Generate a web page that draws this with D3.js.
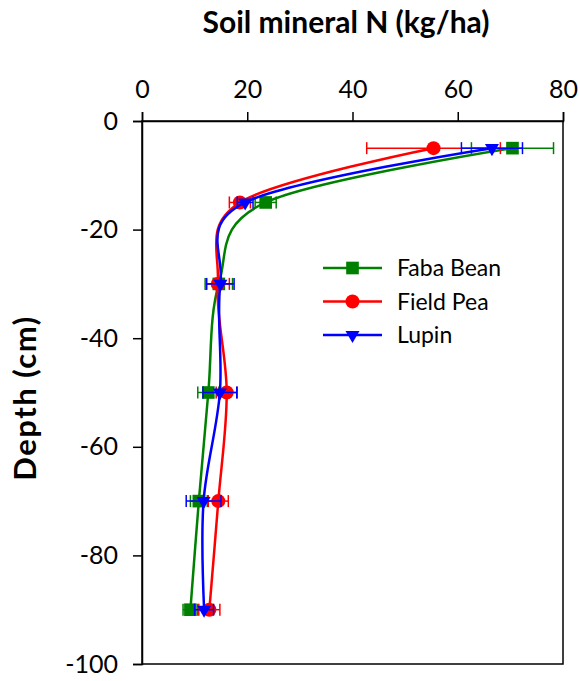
<!DOCTYPE html>
<html>
<head>
<meta charset="utf-8">
<script src="https://cdn.jsdelivr.net/npm/d3@7"></script>
<style>
  body { margin: 0; background: #fff; }
  svg { display: block; font-family: Lato, "Open Sans", sans-serif; }
</style>
</head>
<body>
<svg id="chart" width="580" height="681"></svg>
<script>
// depth of each sampling layer (cm, negative = below surface)
var depths = [-5, -15, -30, -50, -70, -90];

var fabaBean = [70.4, 23.5, 14.6, 12.6, 10.8, 9.2];
var fabaBeanErr = [7.8, 2.0, 2.6, 2.0, 1.6, 1.4];
var fieldPea = [55.4, 18.6, 14.4, 16.1, 14.5, 12.8];
var fieldPeaErr = [12.7, 2.0, 2.2, 2.0, 1.9, 2.0];
var lupin = [66.5, 19.6, 14.9, 14.8, 11.7, 11.8];
var lupinErr = [5.8, 1.5, 2.6, 3.2, 3.3, 1.8];

var xTicks = [0, 20, 40, 60, 80];
var yTicks = [0, -20, -40, -60, -80, -100];

var series = [
    {name: "Faba Bean", values: fabaBean, err: fabaBeanErr, color: "#008000", symbol: "square"},
    {name: "Field Pea", values: fieldPea, err: fieldPeaErr, color: "#ff0000", symbol: "circle"},
    {name: "Lupin", values: lupin, err: lupinErr, color: "#0000ff", symbol: "triangle"}
];

var svg = d3.select("#chart");
var plotL = 142, plotR = 563, plotT = 121, plotB = 664;

var x = d3.scaleLinear().domain([0, 80]).range([plotL, plotR]);
var y = d3.scaleLinear().domain([0, -100]).range([plotT, plotB]);

// frame
svg.append("rect")
    .attr("x", plotL).attr("y", plotT)
    .attr("width", plotR - plotL).attr("height", plotB - plotT)
    .attr("fill", "none").attr("stroke", "#000").attr("stroke-width", 1.5);

var xAxis = svg.append("g")
    .attr("transform", "translate(0," + plotT + ")")
    .call(d3.axisTop(x).tickValues(xTicks).tickSize(9).tickPadding(14));
var yAxis = svg.append("g")
    .attr("transform", "translate(" + plotL + ",0)")
    .call(d3.axisLeft(y).tickValues(yTicks).tickSize(9).tickPadding(15)
        .tickFormat(function(d) { return String(d); }));

[xAxis, yAxis].forEach(function(a) {
    a.select(".domain").attr("stroke", "#000").attr("stroke-width", 1.5);
    a.selectAll(".tick line").attr("stroke", "#000").attr("stroke-width", 1.5);
    a.selectAll(".tick text").attr("fill", "#000").attr("font-size", 25).attr("font-family", "Lato, sans-serif");
});

// titles
svg.append("text")
    .attr("x", 346).attr("y", 33)
    .attr("text-anchor", "middle")
    .attr("font-size", 30).attr("font-weight", "bold")
    .text("Soil mineral N (kg/ha)");

svg.append("text")
    .attr("transform", "translate(36,398) rotate(-90)")
    .attr("text-anchor", "middle")
    .attr("font-size", 31).attr("font-weight", "bold")
    .attr("letter-spacing", 1.5)
    .text("Depth (cm)");

var symbolType = {square: d3.symbolSquare, circle: d3.symbolCircle, triangle: d3.symbolTriangle};
var symbolSize = {square: 160, circle: 155, triangle: 85};

function marker(sel, s) {
    sel.append("path")
        .attr("d", d3.symbol().type(symbolType[s.symbol]).size(symbolSize[s.symbol]))
        .attr("fill", s.color)
        .attr("transform", function(d) {
            return "translate(" + d.px + "," + d.py + ")" + (s.symbol === "triangle" ? " rotate(180)" : "");
        });
}

var line = d3.line()
    .x(function(d) { return d.px; })
    .y(function(d) { return d.py; })
    .curve(d3.curveCardinal.tension(0));

series.forEach(function(s) {
    var pts = depths.map(function(dep, i) {
        return {px: x(s.values[i]), py: y(dep), lo: x(s.values[i] - s.err[i]), hi: x(s.values[i] + s.err[i])};
    });
    var g = svg.append("g");

    // horizontal error bars with caps
    var eb = g.selectAll(".err").data(pts).enter().append("g")
        .attr("stroke", s.color).attr("stroke-width", 1.5);
    eb.append("line")
        .attr("x1", function(d) { return d.lo; }).attr("x2", function(d) { return d.hi; })
        .attr("y1", function(d) { return d.py; }).attr("y2", function(d) { return d.py; });
    eb.append("line")
        .attr("x1", function(d) { return d.lo; }).attr("x2", function(d) { return d.lo; })
        .attr("y1", function(d) { return d.py - 6; }).attr("y2", function(d) { return d.py + 6; });
    eb.append("line")
        .attr("x1", function(d) { return d.hi; }).attr("x2", function(d) { return d.hi; })
        .attr("y1", function(d) { return d.py - 6; }).attr("y2", function(d) { return d.py + 6; });

    g.append("path")
        .datum(pts)
        .attr("d", line)
        .attr("fill", "none")
        .attr("stroke", s.color)
        .attr("stroke-width", 2.5);

    g.selectAll(".pt").data(pts).enter().call(function(sel) { marker(sel, s); });
});

// legend
var legend = svg.append("g");
series.forEach(function(s, i) {
    var ly = 268 + i * 33.5;
    legend.append("line")
        .attr("x1", 323).attr("x2", 382).attr("y1", ly).attr("y2", ly)
        .attr("stroke", s.color).attr("stroke-width", 2.5);
    marker(legend.selectAll(null).data([{px: 352.5, py: ly}]).enter(), s);
    legend.append("text")
        .attr("x", 397).attr("y", ly + 8)
        .attr("font-size", 23)
        .text(s.name);
});
</script>
</body>
</html>
